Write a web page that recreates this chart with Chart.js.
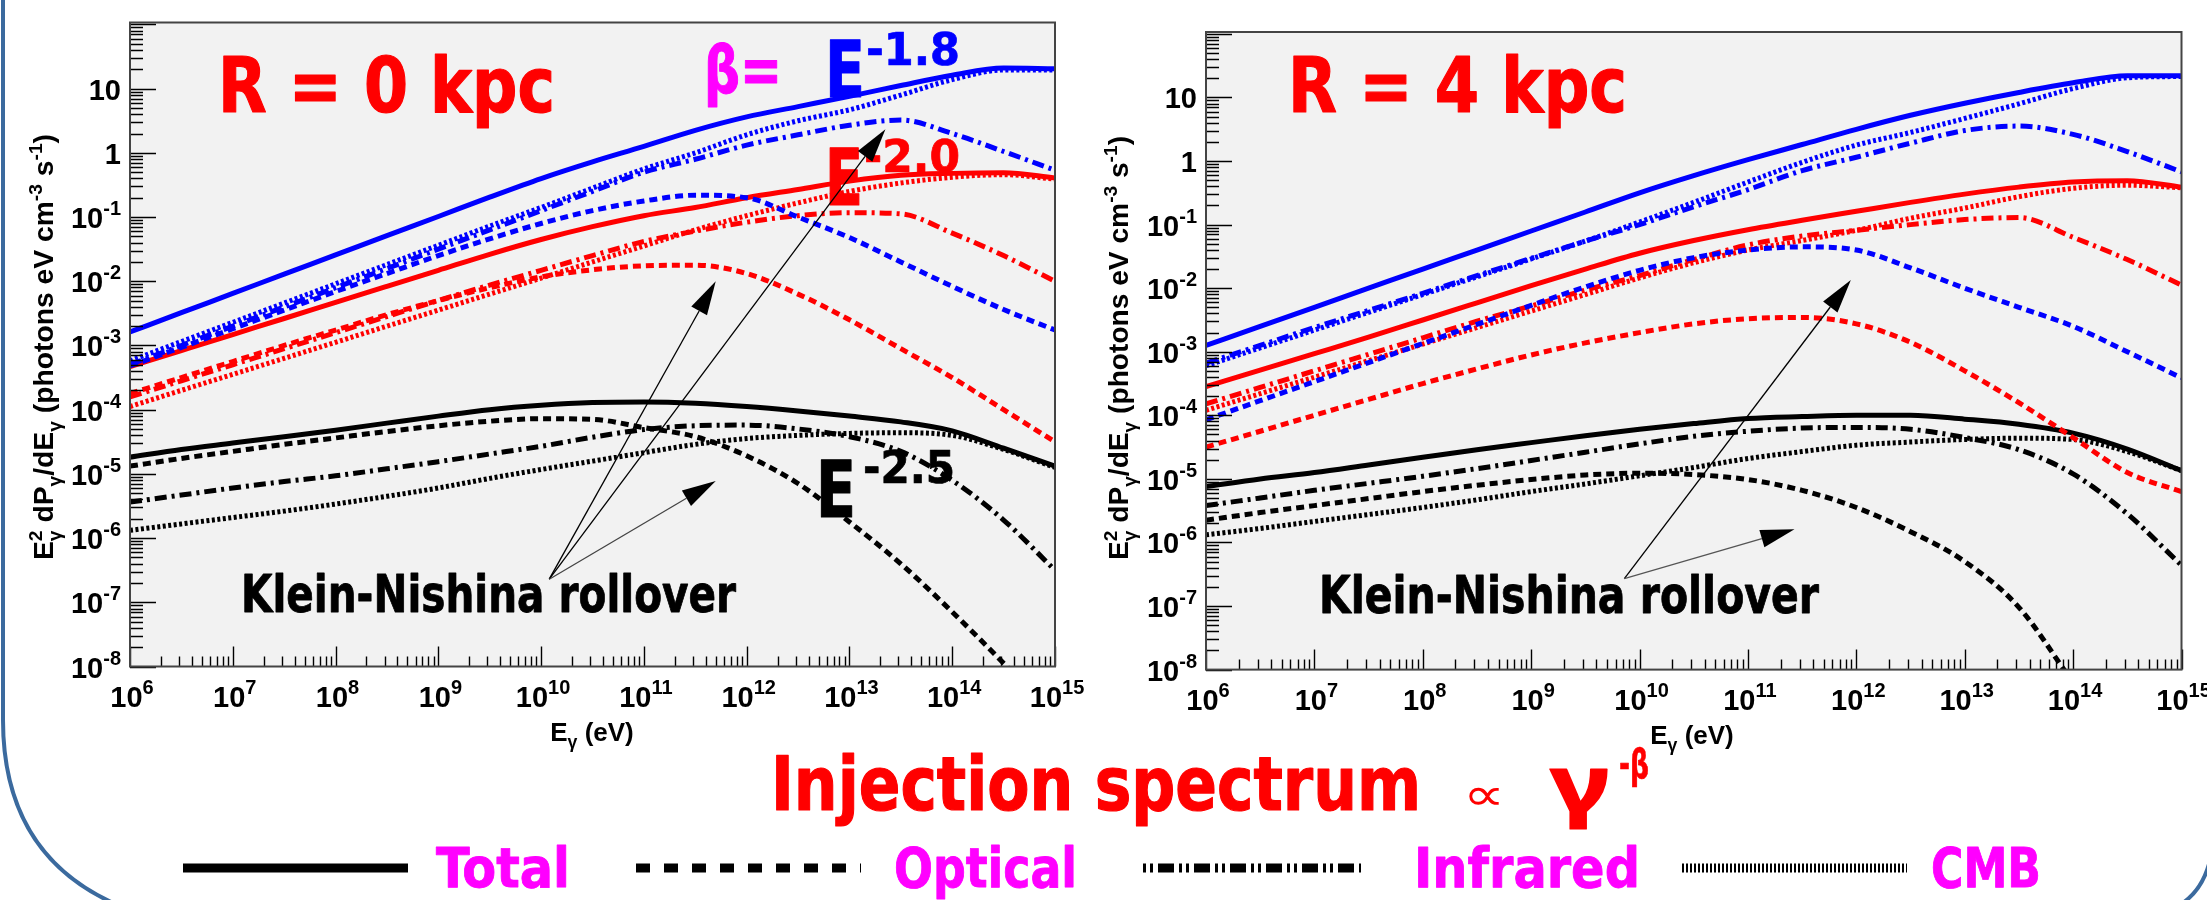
<!DOCTYPE html>
<html>
<head>
<meta charset="utf-8">
<script src="https://cdn.jsdelivr.net/npm/chart.js@4.4.0/dist/chart.umd.min.js"></script>
<style>
    html, body { margin: 0; padding: 0; background: #ffffff; }
    #page { position: relative; width: 2207px; height: 900px; overflow: hidden; }
    #page canvas { position: absolute; top: 0; }
</style>
</head>
<body>
<div id="page">
    <canvas id="slide_bg" width="2207" height="900" style="left:0"></canvas>
    <canvas id="chart_r0" width="1100" height="760" style="left:0"></canvas>
    <canvas id="chart_r4" width="1107" height="760" style="left:1100px"></canvas>
</div>
<script>
// photon energy grid (eV), half-decade steps
const ENERGY_EV = [1e6, 3.16e6, 1e7, 3.16e7, 1e8, 3.16e8, 1e9, 3.16e9, 1e10, 3.16e10,
    1e11, 3.16e11, 1e12, 3.16e12, 1e13, 3.16e13, 1e14, 3.16e14, 1e15];

// ---- R = 0 kpc ----
const r0_b18_total    = [1.62e-3, 3.24e-3, 6.46e-3, 1.29e-2, 2.57e-2, 5.13e-2, 1.02e-1, 2.04e-1, 3.98e-1, 7.24e-1, 1.26, 2.24, 3.63, 5.25, 7.59, 11.2, 16.2, 20.9, 20.4];
const r0_b18_optical  = [4.79e-4, 9.33e-4, 1.82e-3, 3.55e-3, 6.92e-3, 1.32e-2, 2.51e-2, 4.57e-2, 7.94e-2, 1.26e-1, 1.78e-1, 2.19e-1, 2.0e-1, 1.0e-1, 4.79e-2, 2.0e-2, 8.32e-3, 3.63e-3, 1.74e-3];
const r0_b18_infrared = [5.01e-4, 1.0e-3, 2.0e-3, 3.98e-3, 7.94e-3, 1.58e-2, 3.16e-2, 6.31e-2, 1.26e-1, 2.51e-1, 5.01e-1, 7.94e-1, 1.32, 1.91, 2.69, 3.24, 2.0, 1.05, 5.37e-1];
const r0_b18_cmb      = [5.75e-4, 1.15e-3, 2.29e-3, 4.57e-3, 9.12e-3, 1.82e-2, 3.63e-2, 7.24e-2, 1.41e-1, 2.82e-1, 5.62e-1, 1.0, 1.91, 3.16, 4.68, 7.94, 13.8, 19.5, 19.5];

const r0_b20_total    = [4.68e-4, 8.32e-4, 1.48e-3, 2.63e-3, 4.68e-3, 8.32e-3, 1.48e-2, 2.63e-2, 4.47e-2, 7.08e-2, 1.05e-1, 1.41e-1, 2.0e-1, 2.69e-1, 3.63e-1, 4.47e-1, 4.79e-1, 4.9e-1, 4.07e-1];
const r0_b20_optical  = [1.78e-4, 3.16e-4, 5.62e-4, 1.0e-3, 1.74e-3, 3.02e-3, 5.01e-3, 7.94e-3, 1.17e-2, 1.51e-2, 1.74e-2, 1.78e-2, 1.32e-2, 6.31e-3, 2.51e-3, 8.91e-4, 3.16e-4, 1.0e-4, 3.16e-5];
const r0_b20_infrared = [1.58e-4, 2.82e-4, 5.01e-4, 8.91e-4, 1.58e-3, 2.82e-3, 5.01e-3, 8.71e-3, 1.48e-2, 2.51e-2, 4.17e-2, 6.03e-2, 8.32e-2, 1.05e-1, 1.17e-1, 1.12e-1, 5.62e-2, 2.51e-2, 1.0e-2];
const r0_b20_cmb      = [1.12e-4, 2.0e-4, 3.55e-4, 6.31e-4, 1.12e-3, 2.0e-3, 3.55e-3, 6.31e-3, 1.12e-2, 2.0e-2, 3.55e-2, 6.31e-2, 1.05e-1, 1.66e-1, 2.51e-1, 3.39e-1, 4.17e-1, 4.57e-1, 3.89e-1];

const r0_b25_total    = [1.82e-5, 2.40e-5, 3.02e-5, 3.80e-5, 4.79e-5, 6.17e-5, 7.94e-5, 1.0e-4, 1.17e-4, 1.29e-4, 1.32e-4, 1.26e-4, 1.12e-4, 9.55e-5, 7.94e-5, 6.46e-5, 4.68e-5, 2.51e-5, 1.32e-5];
const r0_b25_optical  = [1.32e-5, 1.74e-5, 2.24e-5, 2.88e-5, 3.63e-5, 4.57e-5, 5.62e-5, 6.61e-5, 7.24e-5, 7.08e-5, 5.25e-5, 3.80e-5, 1.91e-5, 7.08e-6, 1.78e-6, 3.98e-7, 7.08e-8, 1.12e-8, 1.58e-9];
const r0_b25_infrared = [3.63e-6, 4.68e-6, 6.03e-6, 7.59e-6, 9.33e-6, 1.20e-5, 1.55e-5, 2.04e-5, 2.69e-5, 3.72e-5, 4.90e-5, 5.62e-5, 5.75e-5, 5.01e-5, 3.80e-5, 2.24e-5, 7.94e-6, 1.91e-6, 3.16e-7];
const r0_b25_cmb      = [1.32e-6, 1.66e-6, 2.09e-6, 2.63e-6, 3.39e-6, 4.47e-6, 6.03e-6, 8.51e-6, 1.17e-5, 1.58e-5, 2.14e-5, 2.88e-5, 3.55e-5, 3.98e-5, 4.27e-5, 4.37e-5, 3.98e-5, 2.40e-5, 1.26e-5];

// ---- R = 4 kpc ----
const r4_b18_total    = [1.26e-3, 2.51e-3, 5.01e-3, 1.0e-2, 2.0e-2, 3.98e-2, 7.94e-2, 1.58e-1, 3.16e-1, 5.89e-1, 1.05, 1.82, 3.16, 5.25, 8.13, 12.0, 17.0, 21.9, 22.0];
const r4_b18_optical  = [8.51e-5, 1.70e-4, 3.39e-4, 6.76e-4, 1.35e-3, 2.69e-3, 5.37e-3, 1.05e-2, 1.91e-2, 3.02e-2, 3.98e-2, 4.47e-2, 3.98e-2, 2.09e-2, 1.0e-2, 5.01e-3, 2.51e-3, 1.0e-3, 3.89e-4];
const r4_b18_infrared = [6.61e-4, 1.26e-3, 2.40e-3, 4.47e-3, 8.32e-3, 1.58e-2, 2.95e-2, 5.50e-2, 1.0e-1, 1.91e-1, 3.55e-1, 7.08e-1, 1.15, 1.91, 3.02, 3.55, 2.63, 1.41, 6.76e-1];
const r4_b18_cmb      = [6.03e-4, 1.15e-3, 2.19e-3, 4.17e-3, 7.94e-3, 1.51e-2, 2.88e-2, 5.50e-2, 1.10e-1, 2.24e-1, 4.68e-1, 9.55e-1, 1.78, 2.82, 4.68, 7.94, 13.8, 20.4, 21.4];

const r4_b20_total    = [2.82e-4, 5.13e-4, 9.33e-4, 1.70e-3, 3.16e-3, 5.89e-3, 1.10e-2, 2.0e-2, 3.55e-2, 5.62e-2, 8.32e-2, 1.17e-1, 1.62e-1, 2.24e-1, 3.02e-1, 3.89e-1, 4.68e-1, 4.90e-1, 3.89e-1];
const r4_b20_optical  = [3.16e-5, 5.62e-5, 1.0e-4, 1.78e-4, 3.16e-4, 5.37e-4, 8.91e-4, 1.38e-3, 2.0e-3, 2.75e-3, 3.31e-3, 3.47e-3, 2.75e-3, 1.41e-3, 5.01e-4, 1.58e-4, 4.47e-5, 1.26e-5, 6.31e-6];
const r4_b20_infrared = [1.51e-4, 2.75e-4, 5.01e-4, 9.12e-4, 1.66e-3, 3.02e-3, 5.25e-3, 9.33e-3, 1.58e-2, 2.82e-2, 4.79e-2, 6.61e-2, 8.13e-2, 1.0e-1, 1.2e-1, 1.29e-1, 6.31e-2, 2.82e-2, 1.12e-2];
const r4_b20_cmb      = [1.20e-4, 2.19e-4, 3.98e-4, 7.24e-4, 1.32e-3, 2.40e-3, 4.37e-3, 7.94e-3, 1.45e-2, 2.51e-2, 3.98e-2, 5.62e-2, 8.13e-2, 1.26e-1, 1.82e-1, 2.75e-1, 3.72e-1, 4.17e-1, 3.80e-1];

const r4_b25_total    = [7.59e-6, 1.0e-5, 1.26e-5, 1.66e-5, 2.19e-5, 2.88e-5, 3.72e-5, 4.79e-5, 6.03e-5, 7.41e-5, 8.91e-5, 9.55e-5, 1.0e-4, 1.0e-4, 8.71e-5, 7.24e-5, 5.25e-5, 2.95e-5, 1.35e-5];
const r4_b25_optical  = [2.24e-6, 2.95e-6, 3.80e-6, 4.90e-6, 6.31e-6, 7.94e-6, 9.77e-6, 1.15e-5, 1.23e-5, 1.17e-5, 9.77e-6, 6.61e-6, 3.55e-6, 1.48e-6, 5.01e-7, 9.55e-8, 6.31e-9, 5.01e-10, 3.98e-11];
const r4_b25_infrared = [3.80e-6, 5.01e-6, 6.61e-6, 8.51e-6, 1.10e-5, 1.45e-5, 1.95e-5, 2.63e-5, 3.55e-5, 4.68e-5, 5.62e-5, 6.31e-5, 6.46e-5, 6.03e-5, 4.47e-5, 2.88e-5, 1.20e-5, 2.82e-6, 4.37e-7];
const r4_b25_cmb      = [1.32e-6, 1.66e-6, 2.14e-6, 2.75e-6, 3.55e-6, 4.68e-6, 6.31e-6, 8.32e-6, 1.12e-5, 1.51e-5, 2.09e-5, 2.69e-5, 3.39e-5, 3.80e-5, 4.17e-5, 4.37e-5, 4.17e-5, 2.69e-5, 1.35e-5];

// axis decades
const X_DECADES = [6, 7, 8, 9, 10, 11, 12, 13, 14, 15];
const Y_DECADES = [-8, -7, -6, -5, -4, -3, -2, -1, 0, 1];

const LEGEND_LABELS = ['Total', 'Optical', 'Infrared', 'CMB'];

const COLOR_BY_BETA = {b18: '#0000ff', b20: '#ff0000', b25: '#000000'};
const DASH_BY_COMP = {total: [], optical: [8, 5], infrared: [12, 5, 3, 5], cmb: [3, 2.5]};

const HELV = '"Liberation Sans", Arial, Helvetica, sans-serif';
const COMIC = '"Comic Sans MS", "DejaVu Sans Condensed", "DejaVu Sans", sans-serif';

function makeDatasets(series)
{
    let datasets = [];
    ['b18', 'b20', 'b25'].forEach(function (beta) {
        ['total', 'cmb', 'infrared', 'optical'].forEach(function (comp) {
            const values = series[beta][comp];
            datasets.push({
                label: beta + '_' + comp,
                data: ENERGY_EV.map(function (e, i) { return {x: e, y: values[i]}; }),
                borderColor: COLOR_BY_BETA[beta],
                borderWidth: 5,
                borderDash: DASH_BY_COMP[comp],
                borderCapStyle: 'butt',
                pointRadius: 0,
                fill: false,
                cubicInterpolationMode: 'monotone',
            });
        });
    });
    return datasets;
}

// text squeezed/stretched to a wanted width, with a light outline to round it off
function fitText(ctx, text, x, baseline, size, width, color, family, weight, outline)
{
    ctx.save();
    ctx.font = (weight || 'bold') + ' ' + size + 'px ' + (family || COMIC);
    const w = ctx.measureText(text).width;
    ctx.translate(x, baseline);
    ctx.scale(width / w, 1);
    ctx.fillStyle = color;
    ctx.textAlign = 'left';
    ctx.textBaseline = 'alphabetic';
    ctx.fillText(text, 0, 0);
    const ow = outline === undefined ? size * 0.015 : outline;
    if (ow > 0) {
        ctx.strokeStyle = color;
        ctx.lineJoin = 'round';
        ctx.lineWidth = ow;
        ctx.strokeText(text, 0, 0);
    }
    ctx.restore();
}

// rich text: segments of {t, m} with m = 'n' normal, 'sub', 'sup', or {sub, sup} stacked
function richWidth(ctx, segs, size)
{
    let w = 0;
    segs.forEach(function (s) {
        if (s.sub !== undefined) {
            ctx.font = 'bold ' + (size * 0.68) + 'px ' + HELV;
            w += Math.max(ctx.measureText(s.sub).width, ctx.measureText(s.sup).width);
        } else {
            ctx.font = 'bold ' + (s.m === 'n' ? size : size * 0.68) + 'px ' + HELV;
            w += ctx.measureText(s.t).width;
        }
    });
    return w;
}

function drawRich(ctx, segs, x, y, size)
{
    let cx = x;
    segs.forEach(function (s) {
        if (s.sub !== undefined) {
            ctx.font = 'bold ' + (size * 0.68) + 'px ' + HELV;
            ctx.fillText(s.sub, cx, y + size * 0.28);
            ctx.fillText(s.sup, cx, y - size * 0.42);
            cx += Math.max(ctx.measureText(s.sub).width, ctx.measureText(s.sup).width);
        } else if (s.m === 'n') {
            ctx.font = 'bold ' + size + 'px ' + HELV;
            ctx.fillText(s.t, cx, y);
            cx += ctx.measureText(s.t).width;
        } else {
            ctx.font = 'bold ' + (size * 0.68) + 'px ' + HELV;
            ctx.fillText(s.t, cx, y + (s.m === 'sub' ? size * 0.28 : -size * 0.42));
            cx += ctx.measureText(s.t).width;
        }
    });
}

const Y_TITLE = [
    {t: 'E', m: 'n'}, {sub: 'γ', sup: '2'}, {t: ' dP', m: 'n'}, {t: 'γ', m: 'sub'},
    {t: '/dE', m: 'n'}, {t: 'γ', m: 'sub'}, {t: ' (photons eV cm', m: 'n'}, {t: '-3', m: 'sup'},
    {t: ' s', m: 'n'}, {t: '-1', m: 'sup'}, {t: ')', m: 'n'}
];
const X_TITLE = [{t: 'E', m: 'n'}, {t: 'γ', m: 'sub'}, {t: ' (eV)', m: 'n'}];

function powerLabel(ctx, n, x, baseline, align)
{
    const base = n === 0 ? '1' : '10';
    const sup = (n === 0 || n === 1) ? '' : String(n);
    ctx.font = 'bold 29px ' + HELV;
    const wb = ctx.measureText(base).width;
    ctx.font = 'bold 20px ' + HELV;
    const ws = sup ? ctx.measureText(sup).width : 0;
    const x0 = align === 'right' ? x - wb - ws : x - (wb + ws) / 2;
    ctx.fillStyle = '#000';
    ctx.font = 'bold 29px ' + HELV;
    ctx.fillText(base, x0, baseline);
    if (sup) {
        ctx.font = 'bold 20px ' + HELV;
        ctx.fillText(sup, x0 + wb, baseline - 13);
    }
}

function arrow(ctx, x0, y0, x1, y1, color)
{
    const ang = Math.atan2(y1 - y0, x1 - x0);
    const len = 34, half = 9;
    const bx = x1 - len * Math.cos(ang), by = y1 - len * Math.sin(ang);
    ctx.strokeStyle = color;
    ctx.lineWidth = 1.3;
    ctx.beginPath();
    ctx.moveTo(x0, y0);
    ctx.lineTo(bx, by);
    ctx.stroke();
    ctx.fillStyle = '#000';
    ctx.beginPath();
    ctx.moveTo(x1, y1);
    ctx.lineTo(bx + half * Math.sin(ang), by - half * Math.cos(ang));
    ctx.lineTo(bx - half * Math.sin(ang), by + half * Math.cos(ang));
    ctx.closePath();
    ctx.fill();
}

// ROOT-like frame: grey pad, ticks on left/bottom, power-of-ten labels, axis titles
const rootFrame = {
    id: 'rootFrame',
    beforeDatasetsDraw: function (chart) {
        const ctx = chart.ctx, a = chart.chartArea;
        ctx.save();
        ctx.fillStyle = '#f2f2f2';
        ctx.fillRect(a.left, a.top, a.right - a.left, a.bottom - a.top);
        ctx.restore();
    },
    afterDatasetsDraw: function (chart, args, opts) {
        const ctx = chart.ctx, a = chart.chartArea;
        const xs = chart.scales.x, ys = chart.scales.y;
        ctx.save();
        ctx.strokeStyle = '#000';
        ctx.lineWidth = 1.4;
        ctx.beginPath();
        for (let n = -8; n <= 2; n++) {
            for (let k = 1; k <= 9; k++) {
                const v = k * Math.pow(10, n);
                if (v < ys.min * 0.999 || v > ys.max) continue;
                const py = Math.round(ys.getPixelForValue(v)) + 0.5;
                ctx.moveTo(a.left, py);
                ctx.lineTo(a.left + (k === 1 ? 26 : 13), py);
            }
        }
        for (let n = 6; n <= 15; n++) {
            for (let k = 1; k <= 9; k++) {
                const v = k * Math.pow(10, n);
                if (v > xs.max * 1.001) continue;
                const px = Math.round(xs.getPixelForValue(v)) + 0.5;
                ctx.moveTo(px, a.bottom);
                ctx.lineTo(px, a.bottom - (k === 1 ? 20 : 10));
            }
        }
        ctx.stroke();
        ctx.strokeStyle = '#444';
        ctx.lineWidth = 2;
        ctx.strokeRect(a.left, a.top, a.right - a.left, a.bottom - a.top);

        ctx.textAlign = 'left';
        ctx.textBaseline = 'alphabetic';
        Y_DECADES.forEach(function (n) {
            powerLabel(ctx, n, a.left - 9, ys.getPixelForValue(Math.pow(10, n)) + 11, 'right');
        });
        X_DECADES.forEach(function (n) {
            powerLabel(ctx, n, xs.getPixelForValue(Math.pow(10, n)) + 2, a.bottom + 40, 'center');
        });

        ctx.fillStyle = '#000';
        // y title, rotated
        const ySize = 27;
        const yw = richWidth(ctx, Y_TITLE, ySize);
        ctx.save();
        ctx.translate(opts.yTitleX, opts.yTitleCenter);
        ctx.rotate(-Math.PI / 2);
        ctx.scale(opts.yTitleLength / yw, 1);
        drawRich(ctx, Y_TITLE, -yw / 2, 0, ySize);
        ctx.restore();
        // x title
        const xw = richWidth(ctx, X_TITLE, 26);
        drawRich(ctx, X_TITLE, opts.xTitleCenter - xw / 2, a.bottom + 74, 26);
        ctx.restore();
    }
};

// texts and Klein-Nishina arrows, positions given per panel
const panelNotes = {
    id: 'panelNotes',
    afterDraw: function (chart, args, opts) {
        const ctx = chart.ctx;
        const xs = chart.scales.x, ys = chart.scales.y;
        ctx.save();
        opts.texts.forEach(function (t) {
            fitText(ctx, t.text, t.x, t.y, t.size, t.w, t.color);
        });
        opts.arrows.forEach(function (ar) {
            arrow(ctx,
                xs.getPixelForValue(ar.from[0]), ys.getPixelForValue(ar.from[1]),
                xs.getPixelForValue(ar.to[0]), ys.getPixelForValue(ar.to[1]),
                ar.color);
        });
        ctx.restore();
    }
};

function buildChart(canvasId, series, padding, frameOpts, notes)
{
    return new Chart(document.getElementById(canvasId), {
        type: 'line',
        data: {datasets: makeDatasets(series)},
        options: {
            responsive: false,
            animation: false,
            devicePixelRatio: 1,
            layout: {padding: padding},
            scales: {
                x: {type: 'logarithmic', min: 1e6, max: 1e15, display: false},
                y: {type: 'logarithmic', min: 1e-8, max: 107.2, display: false}
            },
            plugins: {
                legend: {display: false},
                tooltip: {enabled: false},
                rootFrame: frameOpts,
                panelNotes: notes
            }
        },
        plugins: [rootFrame, panelNotes]
    });
}

const KN = 'Klein-Nishina rollover';

buildChart('chart_r0', {
    b18: {total: r0_b18_total, optical: r0_b18_optical, infrared: r0_b18_infrared, cmb: r0_b18_cmb},
    b20: {total: r0_b20_total, optical: r0_b20_optical, infrared: r0_b20_infrared, cmb: r0_b20_cmb},
    b25: {total: r0_b25_total, optical: r0_b25_optical, infrared: r0_b25_infrared, cmb: r0_b25_cmb}
}, {left: 130, right: 45, top: 22.5, bottom: 93.5},
{yTitleX: 53, yTitleCenter: 347, yTitleLength: 426, xTitleCenter: 592},
{
    texts: [
        {text: 'R = 0 kpc', x: 218, y: 112, size: 76, w: 337, color: '#ff0000'},
        {text: 'β=', x: 704, y: 93, size: 66, w: 78, color: '#ff00ff'},
        {text: 'E', x: 825, y: 97, size: 79, w: 40, color: '#0000ff'},
        {text: '-1.8', x: 866, y: 65, size: 44, w: 94, color: '#0000ff'},
        {text: 'E', x: 825, y: 205, size: 79, w: 38, color: '#ff0000'},
        {text: '-2.0', x: 864, y: 172, size: 44, w: 96, color: '#ff0000'},
        {text: 'E', x: 816, y: 517, size: 79, w: 40, color: '#000000'},
        {text: '-2.5', x: 863, y: 483, size: 44, w: 92, color: '#000000'},
        {text: KN, x: 241, y: 612, size: 51, w: 495, color: '#000000'}
    ],
    arrows: [
        {from: [1.2e10, 2.29e-7], to: [5.0e11, 1.0e-2], color: '#000'},
        {from: [1.2e10, 2.29e-7], to: [2.24e13, 2.34], color: '#000'},
        {from: [1.2e10, 2.29e-7], to: [5.0e11, 7.76e-6], color: '#444'}
    ]
});

buildChart('chart_r4', {
    b18: {total: r4_b18_total, optical: r4_b18_optical, infrared: r4_b18_infrared, cmb: r4_b18_cmb},
    b20: {total: r4_b20_total, optical: r4_b20_optical, infrared: r4_b20_infrared, cmb: r4_b20_cmb},
    b25: {total: r4_b25_total, optical: r4_b25_optical, infrared: r4_b25_infrared, cmb: r4_b25_cmb}
}, {left: 106, right: 25.5, top: 32, bottom: 90.4},
{yTitleX: 28, yTitleCenter: 348, yTitleLength: 424, xTitleCenter: 592},
{
    texts: [
        {text: 'R = 4 kpc', x: 188, y: 112, size: 77, w: 339, color: '#ff0000'},
        {text: KN, x: 219, y: 613, size: 51, w: 500, color: '#000000'}
    ],
    arrows: [
        {from: [7.24e9, 2.69e-7], to: [8.9e11, 1.35e-2], color: '#000'},
        {from: [7.24e9, 2.69e-7], to: [2.69e11, 1.62e-6], color: '#555'}
    ]
});

// slide frame, caption and line-style legend
(function drawSlide() {
    const cvs = document.getElementById('slide_bg');
    const ctx = cvs.getContext('2d');
    ctx.fillStyle = '#ffffff';
    ctx.fillRect(0, 0, cvs.width, cvs.height);

    ctx.strokeStyle = '#3b6a9e';
    ctx.lineWidth = 4;
    ctx.beginPath();
    ctx.moveTo(3, -5);
    ctx.lineTo(3, 720);
    ctx.bezierCurveTo(3, 820, 50, 880, 130, 910);
    ctx.stroke();
    ctx.beginPath();
    ctx.moveTo(2212, 850);
    ctx.quadraticCurveTo(2206, 890, 2178, 906);
    ctx.stroke();

    fitText(ctx, 'Injection spectrum', 771, 810, 74, 650, '#ff0000');
    fitText(ctx, '∝', 1463, 810, 46, 42, '#ff0000', '"DejaVu Sans", sans-serif', 'normal', 0);
    fitText(ctx, 'γ', 1550, 812, 78, 60, '#ff0000', '"Noto Sans", "DejaVu Sans", sans-serif');
    fitText(ctx, '-β', 1619, 778, 40, 30, '#ff0000');

    const legendY = 868;
    const samples = [
        {x0: 183, x1: 408, dash: [], tx: 436, tw: 134},
        {x0: 636, x1: 861, dash: [14, 14], tx: 894, tw: 183},
        {x0: 1143, x1: 1361, dash: [3, 4, 3, 5, 16, 5], tx: 1414, tw: 226},
        {x0: 1682, x1: 1907, dash: [2, 2], tx: 1931, tw: 110}
    ];
    samples.forEach(function (s, i) {
        ctx.save();
        ctx.strokeStyle = '#000';
        ctx.lineWidth = 9;
        ctx.lineCap = 'butt';
        ctx.setLineDash(s.dash);
        ctx.beginPath();
        ctx.moveTo(s.x0, legendY);
        ctx.lineTo(s.x1, legendY);
        ctx.stroke();
        ctx.restore();
        fitText(ctx, LEGEND_LABELS[i], s.tx, 887, 55, s.tw, '#ff00ff');
    });
})();
</script>
</body>
</html>
